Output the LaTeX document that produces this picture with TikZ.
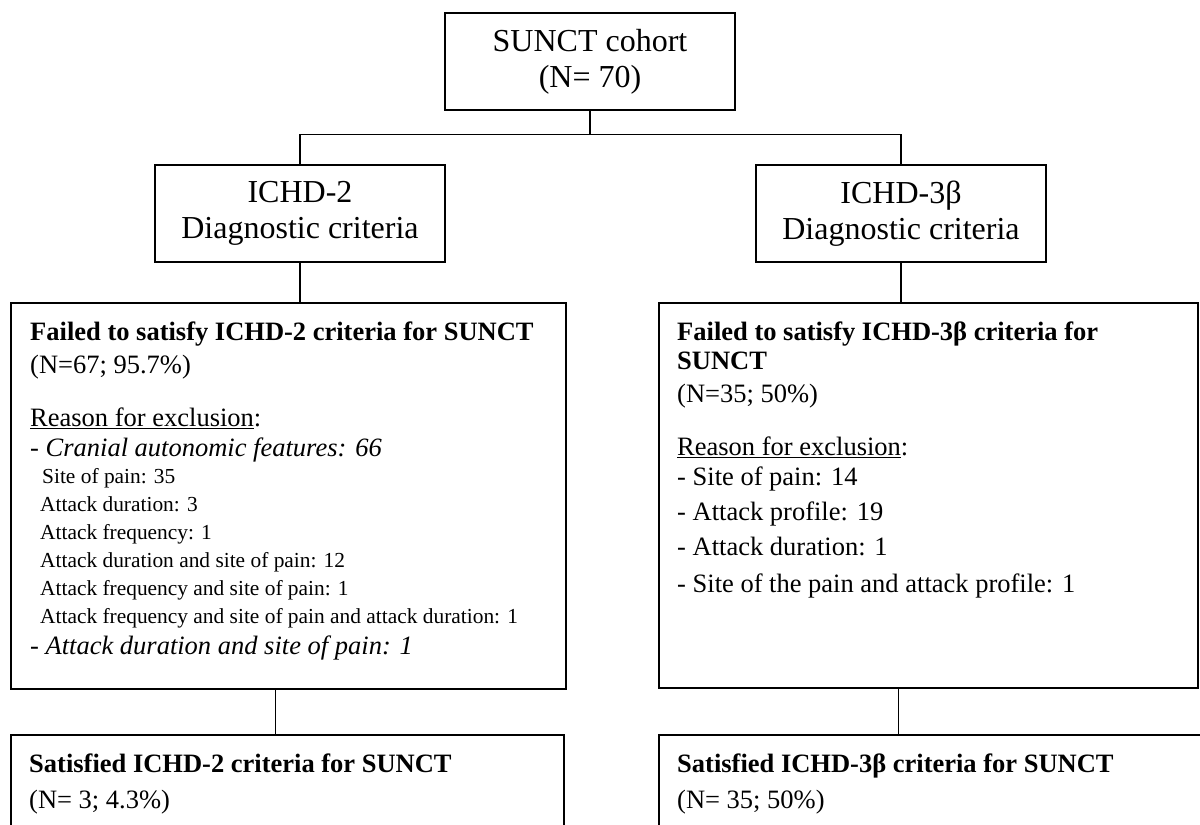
\documentclass[tikz,border=0pt]{standalone}
\usepackage{fontspec}
\setmainfont{Liberation Serif}
\usetikzlibrary{positioning, calc}
\newcommand{\bigtext}{\fontsize{32}{36}\selectfont}
\newcommand{\bodytext}{\fontsize{26.5}{29}\selectfont}
\newcommand{\smalltext}{\fontsize{21.4}{28}\selectfont}
\begin{document}
\begin{tikzpicture}[
  x=1pt, y=-1pt,
  box/.style={draw, line width=1.6pt, minimum width=290pt, minimum height=97pt,
              align=center, inner sep=0pt, font=\bigtext},
  panel/.style={draw, line width=1.6pt, anchor=north west, inner sep=0pt},
  paneltext/.style={anchor=north west, align=left, inner sep=0pt, font=\bodytext},
  link/.style={line width=1.2pt},
]
\clip (0,0) rectangle (1200,825);

% Top row - cohort and the two criteria sets
\node[box] (cohort) at (590,61.5) {SUNCT cohort\\(N= 70)};
\node[box] (ichd2)  at (300,213.5) {ICHD-2\\Diagnostic criteria};
\node[box] (ichd3)  at (901,213.5) {ICHD-3β\\Diagnostic criteria};

% Middle row - failed
\node[panel, minimum width=555pt, minimum height=386pt] (fail2) at (10,302) {};
\node[panel, minimum width=539pt, minimum height=385pt] (fail3) at (658,302) {};

\node[paneltext] (fail2txt) at ([shift={(20,20)}]fail2.north west)
  {\textbf{Failed to satisfy ICHD-2 criteria for SUNCT}\\[4pt]
   (N=67; 95.7\%)\\[24pt]
   \underline{Reason for exclusion}:\\[1pt]
   - \textit{Cranial autonomic features: 66}\\[-2pt]
   {\smalltext\hspace{12pt}Site of pain: 35}\\[-1pt]
   {\smalltext\hspace{10pt}Attack duration: 3}\\[-1pt]
   {\smalltext\hspace{10pt}Attack frequency: 1}\\[-1pt]
   {\smalltext\hspace{10pt}Attack duration and site of pain: 12}\\[-1pt]
   {\smalltext\hspace{10pt}Attack frequency and site of pain: 1}\\[-1pt]
   {\smalltext\hspace{10pt}Attack frequency and site of pain and attack duration: 1}\\[2pt]
   - \textit{Attack duration and site of pain: 1}};

\node[paneltext] (fail3txt) at ([shift={(19,20)}]fail3.north west)
  {\textbf{Failed to satisfy ICHD-3β criteria for}\\
   \textbf{SUNCT}\\[4pt]
   (N=35; 50\%)\\[24pt]
   \underline{Reason for exclusion}:\\[1pt]
   - Site of pain: 14\\[6pt]
   - Attack profile: 19\\[6pt]
   - Attack duration: 1\\[8pt]
   - Site of the pain and attack profile: 1};

% Bottom row - satisfied
\node[panel, minimum width=553pt, minimum height=150pt] (sat2) at (10,734) {};
\node[panel, minimum width=600pt, minimum height=150pt] (sat3) at (658,734) {};

\node[paneltext] (sat2txt) at ([shift={(19,20)}]sat2.north west)
  {\textbf{Satisfied ICHD-2 criteria for SUNCT}\\[7pt]
   (N= 3; 4.3\%)};
\node[paneltext] (sat3txt) at ([shift={(19,20)}]sat3.north west)
  {\textbf{Satisfied ICHD-3β criteria for SUNCT}\\[7pt]
   (N= 35; 50\%)};

% Connectors
\coordinate (split) at ($(cohort.south)+(0,24)$);
\draw[link] (cohort.south) -- (split);
\draw[link] (ichd2.north) |- (split) -| (ichd3.north);
\draw[link] (ichd2.south) -- (ichd2.south |- fail2.north);
\draw[link] (ichd3.south) -- (ichd3.south |- fail3.north);
\draw[link] ([xshift=-12.5pt]fail2.south) -- ([xshift=-12.5pt]fail2.south |- sat2.north);
\draw[link] ([xshift=-29.5pt]fail3.south) -- ([xshift=-29.5pt]fail3.south |- sat3.north);
\end{tikzpicture}
\end{document}
